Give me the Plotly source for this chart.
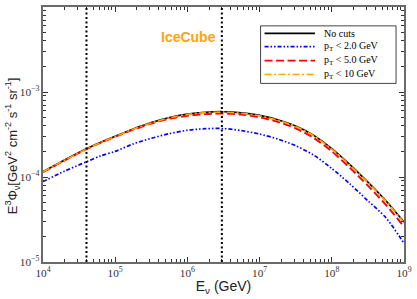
import plotly.graph_objects as go

# Neutrino energies (GeV)
energy = [1e4, 2e4, 4e4, 6.3e4, 1e5, 1.78e5, 3.16e5, 5.62e5, 1e6, 1.78e6, 3.16e6,
          5.62e6, 1e7, 1.78e7, 3.16e7, 5.62e7, 1e8, 1.78e8, 3.16e8, 5.62e8, 1e9]

# E^3 Phi values
no_cuts = [1.153e-4, 1.585e-4, 2.143e-4, 2.56e-4, 3.02e-4, 3.67e-4, 4.365e-4, 5.01e-4, 5.50e-4, 5.78e-4, 5.86e-4,
           5.69e-4, 5.30e-4, 4.72e-4, 3.98e-4, 3.09e-4, 2.16e-4, 1.40e-4, 8.7e-5, 5.25e-5, 2.95e-5]
pt_2 = [8.83e-5, 1.175e-4, 1.51e-4, 1.774e-4, 2.0e-4, 2.455e-4, 2.85e-4, 3.236e-4, 3.55e-4, 3.70e-4, 3.715e-4,
        3.51e-4, 3.20e-4, 2.80e-4, 2.33e-4, 1.81e-4, 1.26e-4, 8.3e-5, 5.25e-5, 3.31e-5, 1.66e-5]
pt_5 = [1.14e-4, 1.57e-4, 2.12e-4, 2.53e-4, 2.98e-4, 3.60e-4, 4.26e-4, 4.86e-4, 5.24e-4, 5.50e-4, 5.58e-4,
        5.42e-4, 5.04e-4, 4.45e-4, 3.73e-4, 2.88e-4, 2.0e-4, 1.28e-4, 7.9e-5, 4.7e-5, 2.6e-5]
pt_10 = [1.15e-4, 1.58e-4, 2.13e-4, 2.54e-4, 3.0e-4, 3.65e-4, 4.33e-4, 4.97e-4, 5.45e-4, 5.72e-4, 5.80e-4,
         5.63e-4, 5.25e-4, 4.67e-4, 3.94e-4, 3.05e-4, 2.13e-4, 1.38e-4, 8.6e-5, 5.2e-5, 2.9e-5]

# Vertical marker energies
vlines = [4e4, 3e6]

legend_names = ["No cuts", "p<sub>T</sub> &lt; 2.0 GeV", "p<sub>T</sub> &lt; 5.0 GeV", "p<sub>T</sub> &lt; 10 GeV"]
series_values = [no_cuts, pt_2, pt_5, pt_10]
series_lines = [
    dict(color="black", width=1.7, dash="solid"),
    dict(color="#0000FF", width=1.7, dash="4px,2px,1.5px,2px,1.5px,2px"),
    dict(color="#FF0000", width=1.9, dash="8px,3.5px"),
    dict(color="#FFA500", width=1.6, dash="7px,2.5px,2px,2.5px"),
]

fig = go.Figure()
for name, vals, line in zip(legend_names, series_values, series_lines):
    fig.add_trace(go.Scatter(x=energy, y=vals, mode="lines", name=name, showlegend=False,
                             line=dict(shape="spline", smoothing=0.8, **line)))

for v in vlines:
    fig.add_shape(type="line", xref="x", yref="paper", x0=v, x1=v, y0=0, y1=1,
                  line=dict(color="black", width=2, dash="2px,2.5px"))

axis_common = dict(
    type="log", dtick=1, exponentformat="power", showgrid=False, zeroline=False,
    showline=True, linecolor="#6a6a6a", linewidth=1.5, mirror="allticks",
    ticks="inside", ticklen=5, tickcolor="#333333",
    tickfont=dict(family="Liberation Serif", size=9, color="#333333"),
    minor=dict(ticks="inside", ticklen=3, dtick="D1", tickcolor="#333333", showgrid=False),
)

fig.update_xaxes(range=[4, 9], title=dict(text="E<sub>ν</sub> (GeV)",
                 font=dict(family="Liberation Sans", size=14, color="#222"), standoff=3),
                 **axis_common)
fig.update_yaxes(range=[-5, -2], **axis_common)

# y-axis title
fig.add_annotation(text="E<sup>3</sup>Φ<sub>ν</sub>[GeV<sup>2</sup> cm<sup>-2</sup> s<sup>-1</sup> sr<sup>-1</sup>]",
                   x=-0.085, y=0.455, xref="paper", yref="paper", textangle=-90,
                   showarrow=False, xanchor="center", yanchor="middle",
                   font=dict(family="Liberation Sans", size=13, color="#222"))

fig.add_annotation(text="<b>IceCube</b>", x=0.32, y=0.922, xref="paper", yref="paper",
                   showarrow=False, font=dict(family="Liberation Sans", size=14, color="#FFA500"))

# Hand-drawn legend box (paper coordinates of the plot area)
fig.add_shape(type="rect", xref="paper", yref="paper", x0=0.6027, x1=0.978, y0=0.7004, y1=0.926,
              line=dict(color="#444444", width=1), fillcolor="white", layer="above")
row_y = [0.8969, 0.8444, 0.7899, 0.7354]
for name, line, ry in zip(legend_names, series_lines, row_y):
    fig.add_shape(type="line", xref="paper", yref="paper", x0=0.6137, x1=0.7534, y0=ry, y1=ry,
                  line=line, layer="above")
    fig.add_annotation(text=name, x=0.7726, y=ry, xref="paper", yref="paper", showarrow=False,
                       xanchor="left", yanchor="middle",
                       font=dict(family="Liberation Serif", size=10, color="black"))

fig.update_layout(
    width=417, height=299,
    margin=dict(l=43, r=9, t=5, b=37),
    plot_bgcolor="white", paper_bgcolor="white",
    showlegend=False,
)

fig.write_html("out.html", config={"displayModeBar": False},
               post_script="document.body.style.margin='0';document.body.style.padding='0';")
